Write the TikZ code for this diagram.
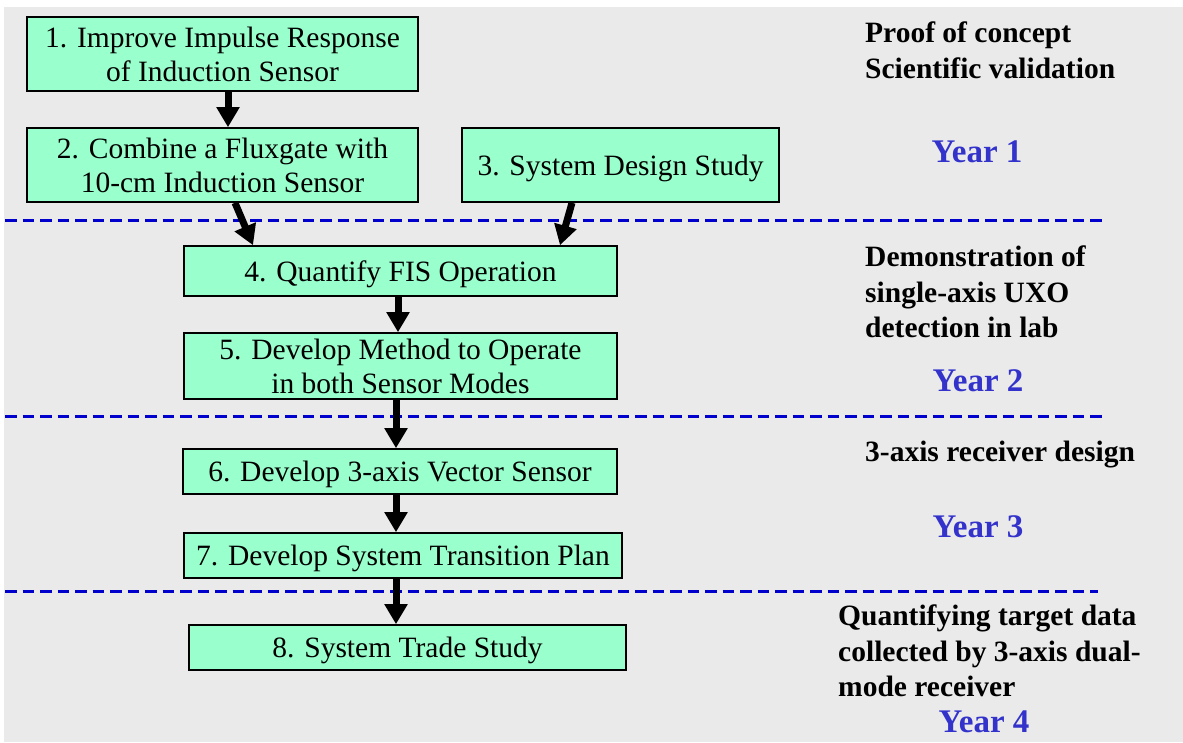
\documentclass[tikz,border=0pt]{standalone}
\usepackage{fontspec}
\setmainfont{Liberation Serif}
\usetikzlibrary{arrows.meta}
\definecolor{boxfill}{HTML}{99FFCC}
\definecolor{bggray}{HTML}{EAEAEA}
\definecolor{dashblue}{HTML}{0000CC}
\definecolor{yearblue}{HTML}{3333CC}
\tikzset{
  stepbox/.style={draw=black, line width=1.6pt, fill=boxfill, align=center, inner sep=0pt,
    font=\fontsize{29.5}{34}\selectfont, execute at begin node={\rule{0pt}{27pt}}},
  flowarrow/.style={line width=7pt, -{Triangle[width=22pt,length=20pt]}},
  yearsep/.style={draw=dashblue, line width=3pt, dash pattern=on 11.5pt off 6pt},
  phase/.style={anchor=west, align=left, inner sep=0pt, font=\fontsize{29.5}{35.5}\selectfont\bfseries},
  yearlabel/.style={inner sep=0pt, text=yearblue, font=\fontsize{33}{38}\selectfont\bfseries}
}
\begin{document}
\begin{tikzpicture}[x=1pt,y=-1pt]
\useasboundingbox (0,0) rectangle (1183,742);
\fill[bggray] (4,7) rectangle (1183,742);

% boxes
\node[stepbox, minimum width=391pt, minimum height=74pt] (b1) at (222.5,54) {1. Improve Impulse Response\\of Induction Sensor};
\node[stepbox, minimum width=391pt, minimum height=74pt] (b2) at (222.5,165) {2. Combine a Fluxgate with\\10-cm Induction Sensor};
\node[stepbox, minimum width=317pt, minimum height=74pt] (b3) at (620.5,165) {3. System Design Study};
\node[stepbox, minimum width=433pt, minimum height=50pt] (b4) at (400.5,271) {4. Quantify FIS Operation};
\node[stepbox, minimum width=433pt, minimum height=66pt] (b5) at (400.5,366) {5. Develop Method to Operate\\in both Sensor Modes};
\node[stepbox, minimum width=434pt, minimum height=45pt] (b6) at (400,471.5) {6. Develop 3-axis Vector Sensor};
\node[stepbox, minimum width=438pt, minimum height=45pt] (b7) at (403,555.5) {7. Develop System Transition Plan};
\node[stepbox, minimum width=437pt, minimum height=45pt] (b8) at (407.5,647.5) {8. System Trade Study};

% dashed year separators
\coordinate (s1a) at (5,220);   \coordinate (s1b) at (1105,220);
\coordinate (s2a) at (5,416);   \coordinate (s2b) at (1103,416);
\coordinate (s3a) at (5,591);   \coordinate (s3b) at (1098,591);
\draw[yearsep] (s1a) -- (s1b);
\draw[yearsep] (s2a) -- (s2b);
\draw[yearsep] (s3a) -- (s3b);

% arrows
\draw[flowarrow] ([xshift=5.5pt]b1.south) -- ([xshift=5.5pt]b2.north);
\draw[flowarrow] ([xshift=12.5pt]b2.south) -- ([xshift=-147.5pt]b4.north);
\draw[flowarrow] ([xshift=-48.5pt]b3.south) -- ([xshift=159.5pt]b4.north);
\draw[flowarrow] ([xshift=-2.5pt]b4.south) -- ([xshift=-2.5pt]b5.north);
\draw[flowarrow] ([xshift=-4.5pt]b5.south) -- ([xshift=-4pt]b6.north);
\draw[flowarrow] ([xshift=-4pt]b6.south) -- ([xshift=-7pt]b7.north);
\draw[flowarrow] ([xshift=-7pt]b7.south) -- ([xshift=-11.5pt]b8.north);

% phase descriptions
\node[phase] (p1) at (865,50.5) {Proof of concept\\Scientific validation};
\node[phase] (p2) at (865,292) {Demonstration of\\single-axis UXO\\detection in lab};
\node[phase] (p3) at (865,455) {3-axis receiver design};
\node[phase] (p4) at (838,651) {Quantifying target data\\collected by 3-axis dual-\\mode receiver};

% year labels
\node[yearlabel] (y1) at (977,152) {Year 1};
\node[yearlabel] (y2) at (978,381) {Year 2};
\node[yearlabel] (y3) at (978,527) {Year 3};
\node[yearlabel] (y4) at (984,722) {Year 4};
\end{tikzpicture}
\end{document}
